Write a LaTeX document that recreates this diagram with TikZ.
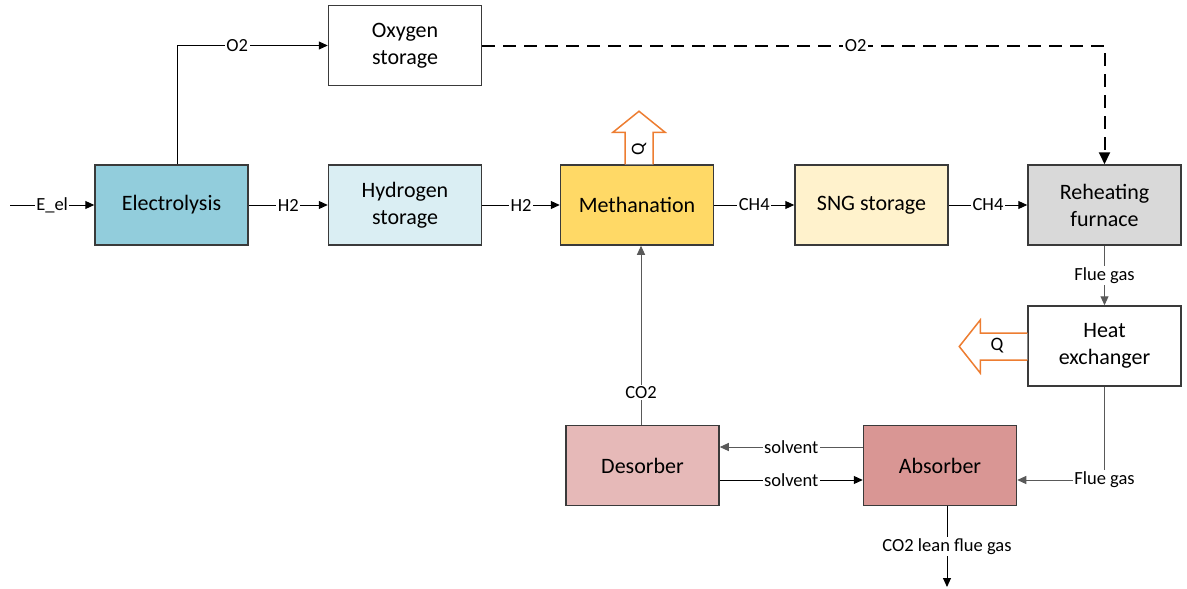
\documentclass[tikz,border=0pt]{standalone}
\usepackage{fontspec}
\setmainfont{Carlito}
\usetikzlibrary{positioning}
\usetikzlibrary{calc}
\usetikzlibrary{arrows.meta}
\definecolor{boxline}{HTML}{3A3A3A}
\definecolor{elecblue}{HTML}{92CDDC}
\definecolor{hydblue}{HTML}{DAEEF3}
\definecolor{methyellow}{HTML}{FFD966}
\definecolor{sngyellow}{HTML}{FFF2CC}
\definecolor{furngray}{HTML}{D9D9D9}
\definecolor{desred}{HTML}{E6B9B8}
\definecolor{absred}{HTML}{D99694}
\definecolor{heatorange}{HTML}{ED7D31}
\definecolor{linegray}{HTML}{595959}

\begin{document}
\begin{tikzpicture}[x=1pt, y=-1pt,
	box/.style={draw=boxline, line width=1.5pt, minimum width=153pt, minimum height=80pt, align=center, inner sep=2pt, font=\fontsize{22}{27}\selectfont},
	flow/.style={-{Triangle[length=9pt,width=8pt]}, line width=1pt},
	grayflow/.style={flow, draw=linegray},
	lbl/.style={fill=white, inner sep=1.5pt, font=\fontsize{18.5}{22}\selectfont},
	heat/.style={draw=heatorange, line width=1.5pt, fill=white, line join=miter},
	]
	\useasboundingbox (0,0) rectangle (1187,589);
	% Process units
	\node[box, fill=elecblue] (elec) at (171.5,205) {Electrolysis};
	\node[box, fill=white] (oxy) at (405,45.5) {Oxygen\\storage};
	\node[box, fill=hydblue] (hyd) at (405,205) {Hydrogen\\storage};
	\node[box, fill=methyellow] (meth) at (637,205) {Methanation};
	\node[box, fill=sngyellow] (sng) at (871.5,205) {SNG storage};
	\node[box, fill=furngray] (furn) at (1104.5,205) {Reheating\\furnace};
	\node[box, fill=white] (hx) at (1104.5,346) {Heat\\exchanger};
	\node[box, fill=desred] (des) at (642.5,465.5) {Desorber};
	\node[box, fill=absred] (absb) at (940,465.5) {Absorber};
	% Free ends
	\coordinate (ein) at (10,205);
	\coordinate (lean) at (947,587);
	% Main line
	\draw[flow] (ein) -- node[lbl] {E\_el} (elec);
	\draw[flow] (elec) -- node[lbl] {H2} (hyd);
	\draw[flow] (hyd) -- node[lbl] {H2} (meth);
	\draw[flow] (meth) -- node[lbl] {CH4} (sng);
	\draw[flow] (sng) -- node[lbl] {CH4} (furn);
	% Oxygen
	\draw[flow] ([xshift=5.5pt]elec.north) |- node[lbl, pos=0.7] {O2} (oxy.west);
	\draw[-{Triangle[length=12pt,width=11pt]}, line width=2pt, dash pattern=on 13pt off 8pt] (oxy.east) -| node[lbl, pos=0.3] {O2} (furn.north);
	% Flue gas
	\draw[grayflow] (furn) -- node[lbl] {Flue gas} (hx);
	\node[lbl] (fg) at (1104.5,480) {Flue gas};
	\draw[linegray, line width=1pt] (hx) -- (fg);
	\draw[grayflow] (fg) -- (fg -| absb.east);
	% Solvent loop
	\draw[grayflow] ([yshift=18.5pt]absb.west) -- node[lbl] {solvent} ([yshift=18.5pt]des.east);
	\draw[flow] ([yshift=-14.5pt]des.east) -- node[lbl] {solvent} ([yshift=-14.5pt]absb.west);
	% CO2
	\draw[grayflow] ([xshift=-1.5pt]des.north) -- node[lbl, pos=0.18] {CO2} ([xshift=-1.5pt]des.north |- meth.south);
	\draw[flow] (absb.south -| lean) -- node[lbl] {CO2 lean flue gas} (lean);
	% Heat
	\draw[heat] ([xshift=-12pt]meth.north) -- ++(0,-32) -- ++(-12,0) -- ++(26,-21) -- ++(26,21) -- ++(-12,0) -- ++(0,32);
	\node[lbl, fill=none, rotate=90] (q1) at (639,149) {Q};
	\draw[heat] ([yshift=13pt]hx.west) -- ++(-47,0) -- ++(0,-13) -- ++(-21,26.5) -- ++(21,26.5) -- ++(0,-13) -- ++(47,0);
	\node[lbl, fill=none, font=\fontsize{19}{22}\selectfont] (q2) at (997,346) {Q};
\end{tikzpicture}
\end{document}
